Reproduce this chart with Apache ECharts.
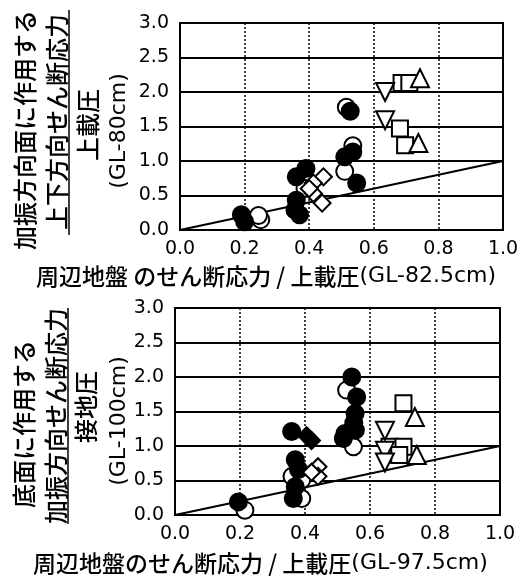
<!DOCTYPE html>
<html><head><meta charset="utf-8">
<script src="https://cdn.jsdelivr.net/npm/echarts@6/dist/echarts.min.js"></script>
<style>html,body{margin:0;padding:0;background:#fff}#c{width:524px;height:579px}</style>
</head><body><div id="c"></div>
<script>
// ---- tick labels ----
const xTickLabels = ['0.0','0.2','0.4','0.6','0.8','1.0'];
const yTickLabels = ['0.0','0.5','1.0','1.5','2.0','2.5','3.0'];

// ---- top panel (GL-80cm vs GL-82.5cm) ----
const topFilledCircle = [[0.19,0.22],[0.20,0.12],[0.36,0.77],[0.39,0.89],[0.356,0.29],[0.36,0.43],[0.37,0.22],[0.51,1.06],[0.535,1.13],[0.547,0.68],[0.527,1.72]];
const topOpenCircle = [[0.25,0.15],[0.243,0.21],[0.51,0.85],[0.387,0.6],[0.515,1.78],[0.535,1.22]];
const topOpenDiamond = [[0.444,0.77],[0.413,0.68],[0.413,0.53],[0.44,0.39],[0.40,0.6]];
const topSquare = [[0.686,2.13],[0.71,2.13],[0.681,1.47],[0.697,1.23]];
const topTriUp = [[0.743,2.2],[0.738,1.26]];
const topTriDown = [[0.635,2.0],[0.635,1.59]];

// ---- bottom panel (GL-100cm vs GL-97.5cm) ----
const botFilledCircle = [[0.195,0.19],[0.359,1.21],[0.37,0.8],[0.38,0.66],[0.37,0.41],[0.364,0.24],[0.544,2.0],[0.559,1.71],[0.554,1.47],[0.55,1.33],[0.555,1.23],[0.523,1.18],[0.518,1.11]];
const botOpenCircle = [[0.215,0.07],[0.528,1.81],[0.549,0.99],[0.36,0.56],[0.39,0.24],[0.39,0.51]];
const botFilledDiamond = [[0.405,1.15],[0.42,1.08]];
const botOpenDiamond = [[0.44,0.7],[0.44,0.56],[0.42,0.62]];
const botSquare = [[0.703,1.62],[0.66,0.99],[0.703,0.99],[0.69,0.87]];
const botTriUp = [[0.738,1.42],[0.744,0.87]];
const botTriDown = [[0.646,1.22],[0.646,0.93],[0.646,0.76]];

// 1:1 reference line
const refLine = [[0,0],[1,1]];

const LAT = 'DejaVu Sans';
const CJK = '"Noto Sans CJK JP"';
const chart = echarts.init(document.getElementById('c'));

function xAx(gi){
  return {gridIndex:gi,type:'value',min:0,max:1,interval:0.2,
    axisLine:{show:true,lineStyle:{color:'#000',width:2}},axisTick:{show:false},
    axisLabel:{color:'#000',fontFamily:LAT,fontSize:19,margin:10,
      formatter:v=>xTickLabels[Math.round(v/0.2)]},
    splitLine:{show:true,lineStyle:{color:'#000',width:1.5,type:[2,2]}}};
}
function yAx(gi){
  return {gridIndex:gi,type:'value',min:0,max:3,interval:0.5,
    axisLine:{show:true,lineStyle:{color:'#000',width:2}},axisTick:{show:false},
    axisLabel:{color:'#000',fontFamily:LAT,fontSize:19,margin:11,
      formatter:v=>yTickLabels[Math.round(v/0.5)]},
    splitLine:{show:true,lineStyle:{color:'#000',width:2}}};
}
function sc(gi,data,symbol,size,fill,rot){
  return {type:'scatter',xAxisIndex:gi,yAxisIndex:gi,data:data,symbol:symbol,symbolSize:size,
    symbolRotate:rot||0,itemStyle:{color:fill,borderColor:'#000',borderWidth:2,opacity:1},z:3};
}
function ln(gi){
  return {type:'line',xAxisIndex:gi,yAxisIndex:gi,data:refLine,symbol:'none',
    lineStyle:{color:'#000',width:2},z:2};
}
const rich = {
  c:{fontFamily:CJK,fontSize:23,fontWeight:500,color:'#000'},
  v:{fontFamily:CJK,fontSize:24,fontWeight:500,color:'#000'},
  l:{fontFamily:LAT,fontSize:22,color:'#000'}
};
function vtext(x,y,txt){
  return {type:'text',x:x,y:y,rotation:Math.PI/2,
    style:{text:txt,fill:'#000',align:'center',verticalAlign:'middle',rich:rich}};
}
function vline(x,y1,y2){
  return {type:'line',shape:{x1:x,y1:y1,x2:x,y2:y2},style:{stroke:'#000',lineWidth:1.5}};
}
function htext(x,y,txt){
  return {type:'text',x:x,y:y,style:{text:txt,align:'left',verticalAlign:'middle',rich:rich}};
}

chart.setOption({
  backgroundColor:'#fff',
  animation:false,
  grid:[
    {left:180,top:23,width:323,height:207,show:true,borderColor:'#000',borderWidth:2,backgroundColor:'transparent'},
    {left:175,top:308,width:325,height:207,show:true,borderColor:'#000',borderWidth:2,backgroundColor:'transparent'}
  ],
  xAxis:[xAx(0),xAx(1)],
  yAxis:[yAx(0),yAx(1)],
  series:[
    ln(0),
    sc(0,topOpenCircle,'circle',17,'#fff'),
    sc(0,topFilledCircle,'circle',17,'#000'),
    sc(0,topOpenDiamond,'rect',12,'#fff',45),
    sc(0,topSquare,'rect',16,'#fff'),
    sc(0,topTriUp,'triangle',18,'#fff'),
    sc(0,topTriDown,'triangle',18,'#fff',180),
    ln(1),
    sc(1,botOpenCircle,'circle',17,'#fff'),
    sc(1,botFilledCircle,'circle',17,'#000'),
    sc(1,botFilledDiamond,'rect',12,'#000',45),
    sc(1,botOpenDiamond,'rect',12,'#fff',45),
    sc(1,botSquare,'rect',16,'#fff'),
    sc(1,botTriUp,'triangle',18,'#fff'),
    sc(1,botTriDown,'triangle',18,'#fff',180)
  ],
  graphic:[
    vtext(25,130,'{v|加振方向面に作用する}'),
    vtext(57,122,'{v|上下方向せん断応力}'),
    vline(69,10,235),
    vtext(88,125,'{v|上載圧}'),
    vtext(119,131,'{l|(GL-80cm)}'),
    vtext(24,424,'{v|底面に作用する}'),
    vtext(56,416,'{v|加振方向せん断応力}'),
    vline(68,308,524),
    vtext(86,407,'{v|接地圧}'),
    vtext(119,421,'{l|(GL-100cm)}'),
    htext(36,276,'{c|周辺地盤 のせん断応力 / 上載圧}{l|(GL-82.5cm)}'),
    htext(33,563,'{c|周辺地盤のせん断応力 / 上載圧}{l|(GL-97.5cm)}')
  ]
});
</script></body></html>
